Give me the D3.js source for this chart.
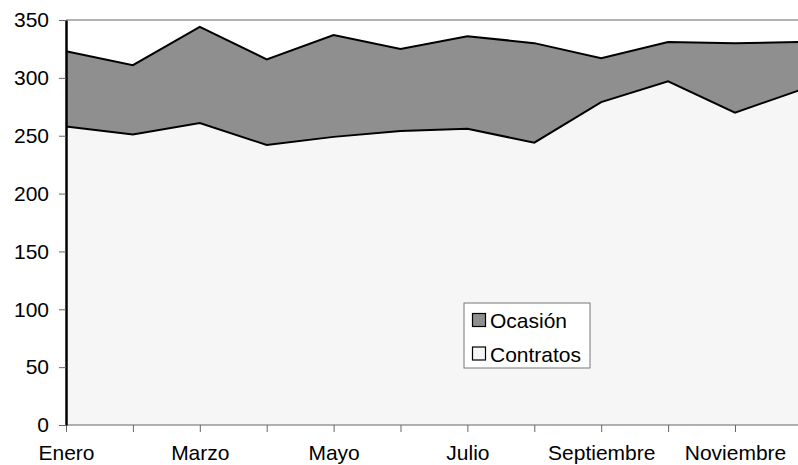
<!DOCTYPE html>
<html>
<head>
<meta charset="utf-8">
<script src="https://cdn.jsdelivr.net/npm/d3@7"></script>
<style>
  body { margin: 0; background: #fff; }
  text { font-family: "Liberation Sans", Arial, sans-serif; }
</style>
</head>
<body>
<svg width="798" height="465"></svg>
<script>
const months = ['Enero', 'Febrero', 'Marzo', 'Abril', 'Mayo', 'Junio', 'Julio',
    'Agosto', 'Septiembre', 'Octubre', 'Noviembre', 'Diciembre'];
const contratos = [258, 251, 261, 242, 249, 254, 256, 244, 279, 297, 270, 290];
const ocasion = [65, 60, 83, 74, 88, 71, 80, 86, 38, 34, 60, 41];
const yTicks = [0, 50, 100, 150, 200, 250, 300, 350];

const svg = d3.select("svg");
const plotLeft = 66, plotTop = 20, plotBottom = 425, step = 66.9;
const fontFam = '"Liberation Sans", Arial, sans-serif';

const x = d3.scalePoint()
    .domain(months)
    .range([plotLeft, plotLeft + step * (months.length - 1)]);

const y = d3.scaleLinear()
    .domain([0, 350])
    .range([plotBottom, plotTop]);

const rows = months.map((m, i) => ({ month: m, Contratos: contratos[i], Ocasion: ocasion[i] }));
const stack = d3.stack().keys(['Contratos', 'Ocasion']);
const layers = stack(rows);
const fills = { Contratos: '#f6f6f6', Ocasion: '#8f8f8f' };

const area = d3.area()
    .x(d => x(d.data.month))
    .y0(d => y(d[0]))
    .y1(d => y(d[1]));

const line = d3.line()
    .x(d => x(d.data.month))
    .y(d => y(d[1]));

// top gridline
svg.append("line")
    .attr("x1", plotLeft).attr("x2", 798)
    .attr("y1", y(350)).attr("y2", y(350))
    .attr("stroke", "#666").attr("stroke-width", 1.2);

svg.selectAll(".layer")
    .data(layers)
    .enter().append("path")
    .attr("class", "layer")
    .attr("d", area)
    .attr("fill", d => fills[d.key]);

svg.selectAll(".edge")
    .data(layers)
    .enter().append("path")
    .attr("class", "edge")
    .attr("d", line)
    .attr("fill", "none")
    .attr("stroke", "#000")
    .attr("stroke-width", 2);

// x axis
const xAxis = svg.append("g")
    .attr("transform", `translate(0,${plotBottom})`)
    .call(d3.axisBottom(x).tickSize(7).tickSizeOuter(0)
        .tickFormat((d, i) => i % 2 === 0 ? d : ""));
xAxis.select(".domain").attr("stroke", "#666").attr("d", `M${plotLeft},0H798`);
xAxis.selectAll(".tick line").attr("stroke", "#666");
xAxis.selectAll(".tick text")
    .attr("y", 35)
    .attr("dy", 0)
    .attr("font-size", 21)
    .attr("fill", "#000")
    .style("font-family", fontFam);

// y axis
const yAxis = svg.append("g")
    .attr("transform", `translate(${plotLeft},0)`)
    .call(d3.axisLeft(y).tickValues(yTicks).tickSize(7).tickSizeOuter(0).tickPadding(10));
yAxis.select(".domain").attr("stroke", "#000").attr("stroke-width", 2.5);
yAxis.selectAll(".tick line").attr("stroke", "#666");
yAxis.selectAll(".tick text")
    .attr("font-size", 21)
    .attr("fill", "#000")
    .style("font-family", fontFam);

// legend
const legend = svg.append("g").attr("transform", "translate(464,303)");
legend.append("rect")
    .attr("width", 126).attr("height", 65)
    .attr("fill", "#fff").attr("stroke", "#777").attr("stroke-width", 1);
const legendItems = [{ key: 'Ocasion', label: 'Ocasión' }, { key: 'Contratos', label: 'Contratos' }];
legendItems.forEach((it, i) => {
    legend.append("rect")
        .attr("x", 8.5).attr("y", 10.5 + i * 33.5)
        .attr("width", 13).attr("height", 13)
        .attr("fill", fills[it.key]).attr("stroke", "#000").attr("stroke-width", 1.2);
    legend.append("text")
        .attr("x", 26).attr("y", 25 + i * 33.5)
        .attr("font-size", 21)
        .text(it.label);
});
</script>
</body>
</html>
